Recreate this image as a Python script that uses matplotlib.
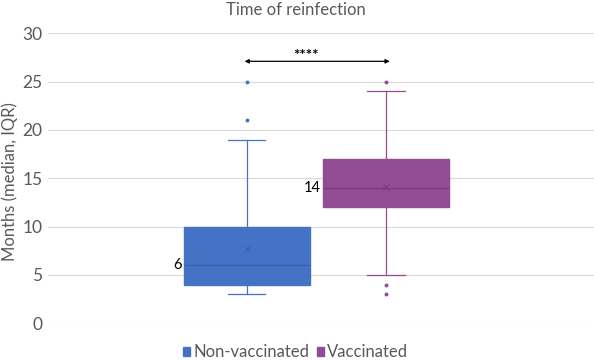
import matplotlib
matplotlib.use("Agg")
import matplotlib.pyplot as plt
from matplotlib.patches import Patch

groups = ["Non-vaccinated", "Vaccinated"]
q1 = [4, 12]
med = [6, 14]
q3 = [10, 17]
whislo = [3, 5]
whishi = [19, 24]
means = [7.7, 14.1]
fliers = [[21, 25], [25, 4, 3]]
colors = ["#4472C4", "#934B94"]
dark = ["#3A64B0", "#7E3A82"]

plt.rcParams['font.family'] = ['Lato', 'DejaVu Sans']

fig = plt.figure(figsize=(5.94, 3.61), dpi=100)
ax = fig.add_axes([48 / 594, 0.1044, 1 - 48 / 594, 0.8034])

positions = [0.364, 0.619]
w = 0.231
for i, g in enumerate(groups):
    st = [dict(med=med[i], q1=q1[i], q3=q3[i], whislo=whislo[i], whishi=whishi[i],
               mean=means[i], fliers=fliers[i], label=g)]
    ax.bxp(st, positions=[positions[i]], widths=w, patch_artist=True,
           showmeans=True, showfliers=True,
           boxprops=dict(facecolor=colors[i], edgecolor=colors[i], linewidth=1),
           medianprops=dict(color=dark[i], linewidth=1),
           whiskerprops=dict(color=colors[i], linewidth=0.9),
           capprops=dict(color=colors[i], linewidth=0.9),
           capwidths=0.068,
           meanprops=dict(marker='x', markeredgecolor=dark[i], markersize=4, markeredgewidth=0.8),
           flierprops=dict(marker='o', markerfacecolor=colors[i], markeredgecolor=colors[i], markersize=1.8))
    ax.text(positions[i] - w / 2 - 0.004, med[i], str(med[i]), ha='right', va='center',
            fontsize=10.5, color='black')

ax.set_xlim(0, 1)
ax.set_ylim(0, 30)
ax.set_yticks(range(0, 31, 5))
ax.set_xticks([])
ax.grid(axis='y', color='#D9D9D9', linewidth=0.8)
ax.set_axisbelow(True)
for s in ax.spines.values():
    s.set_visible(False)
ax.tick_params(axis='y', length=0, labelsize=12.5, colors='#595959', pad=4)
ax.set_ylabel("Months (median, IQR)", fontsize=12, color='#595959')
ax.yaxis.set_label_coords(-30 / 546, 0.49)

# significance bracket
ax.annotate("", xy=(0.355, 27.1), xytext=(0.631, 27.1),
            arrowprops=dict(arrowstyle='<|-|>', color='black', lw=0.9, mutation_scale=6))
ax.text(0.473, 26.9, "****", ha='center', va='bottom', fontsize=11, fontweight='bold')

fig.text(0.498, 0.972, "Time of reinfection", ha='center', va='center', fontsize=12, color='#595959')

handles = [Patch(facecolor=c, edgecolor=c) for c in colors]
fig.legend(handles, groups, loc='center', bbox_to_anchor=(0.498, 0.024), ncol=2, frameon=False,
           fontsize=12, handlelength=0.4, handleheight=0.4, handletextpad=0.2, columnspacing=0.5,
           labelcolor='#595959')

fig.savefig("out.png", dpi=100)
